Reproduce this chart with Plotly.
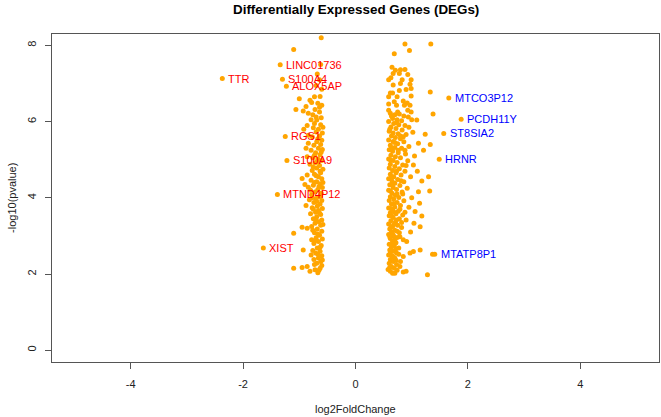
import plotly.graph_objects as go

# ---------------- data ----------------
left_x = [-0.61, -1.10, -0.62, -0.60, -0.70, -1.00, -0.73, -0.63, -0.81, -0.78, -0.67, -0.60,
          -1.06, -0.93, -0.72, -0.84, -0.64, -0.76, -0.69, -0.79, -0.61, -0.86, -0.73, -0.62,
          -0.75, -0.66, -0.70, -0.59, -0.84, -0.77, -0.64, -0.60, -0.69, -0.84, -0.62, -0.74,
          -0.66, -0.79, -0.59, -0.71, -0.63, -0.86, -0.76, -0.67, -0.60, -0.72, -0.81, -0.64,
          -0.69, -0.58, -0.77, -0.62, -0.86, -0.73, -0.66, -0.95, -0.60, -0.79, -0.69, -0.63,
          -0.75, -0.84, -0.59, -0.67, -0.72, -0.61, -0.78, -0.65, -0.70, -0.82, -0.60, -0.74,
          -0.63, -0.68, -0.77, -0.59, -0.66, -0.71, -0.80, -0.62, -0.69, -0.75, -0.60, -0.65,
          -0.72, -0.86, -0.95, -1.10, -0.62, -0.78, -0.68, -0.60, -0.73, -0.64, -0.78, -0.70,
          -0.59, -0.66, -0.74, -0.61, -0.93, -0.68, -0.63, -0.79, -0.71, -0.60, -0.66, -0.74,
          -0.62, -0.69, -1.10, -0.95, -0.86, -0.81, -0.72, -0.63, -0.60, -0.67,
          -0.64, -0.70, -0.58, -0.67, -0.73, -0.61, -0.68, -0.75, -0.63, -0.70, -0.58, -0.73,
          -0.65, -0.80, -0.62, -0.69, -0.75, -0.64, -0.70, -0.58, -0.76, -0.67, -0.72, -0.63,
          -0.76, -0.67, -0.59, -0.73, -0.65, -0.77, -0.88, -0.90, -0.88, -0.92, -0.88, -0.68,
          -0.64]
left_y = [8.20, 7.89, 7.50, 6.85, 6.95, 6.60, 6.65, 6.66, 6.56, 6.50, 6.48, 6.43,
          6.32, 6.28, 6.32, 6.22, 6.25, 6.18, 6.04, 6.05, 6.10, 5.90, 5.95, 5.92,
          5.84, 5.80, 5.73, 5.70, 5.64, 5.60, 5.62, 5.51, 5.47, 5.43, 5.40, 5.38,
          5.30, 5.25, 5.27, 5.18, 5.13, 5.08, 5.05, 5.02, 4.98, 4.92, 4.88, 4.85,
          4.78, 4.75, 4.72, 4.66, 4.60, 4.62, 4.55, 4.51, 4.50, 4.46, 4.42, 4.37,
          4.33, 4.28, 4.27, 4.22, 4.15, 4.12, 4.08, 4.03, 3.98, 3.95, 3.93, 3.88,
          3.84, 3.78, 3.74, 3.72, 3.67, 3.62, 3.58, 3.56, 3.50, 3.45, 3.42, 3.37,
          3.33, 3.20, 3.23, 3.07, 3.28, 3.25, 3.18, 3.12, 3.08, 3.02, 2.90, 2.95,
          2.92, 2.85, 2.80, 2.75, 2.63, 2.68, 2.60, 2.50, 2.55, 2.48, 2.42, 2.38,
          2.33, 2.28, 2.15, 2.17, 2.20, 2.07, 2.11, 2.15, 2.22, 2.03,
          6.38, 6.12, 5.85, 5.55, 5.12, 5.20, 4.95, 4.80, 4.70, 4.58, 4.40, 4.40,
          4.30, 4.20, 4.05, 3.90, 3.70, 3.60, 3.40, 3.30, 3.15, 3.05, 2.88, 2.70,
          2.62, 2.52, 2.37, 2.25, 2.10, 4.00, 3.80, 4.35, 5.30, 5.80, 6.40, 7.25,
          7.10]

right_x = [0.88, 1.34, 0.69, 0.96, 0.65, 0.71, 0.80, 0.88, 0.67, 0.78, 0.93, 0.59,
           0.63, 0.83, 0.99, 0.80, 0.97, 0.99, 0.67, 0.78, 0.90, 1.33, 0.62, 0.66,
           0.59, 0.74, 0.99, 0.85, 0.92, 0.69, 0.59, 0.97, 0.73, 0.87, 0.75, 0.59,
           0.99, 1.38,
           0.62, 0.70, 0.78, 0.86, 0.94, 0.66, 0.74, 0.82, 1.00, 0.59,
           0.68, 0.77, 0.88, 0.63, 0.72, 0.95, 0.83, 0.60, 0.67, 0.76, 0.90, 1.02, 0.64,
           0.71, 0.80, 0.59, 0.67, 0.86, 0.75, 0.62, 0.95, 0.70, 0.82, 0.60, 0.66,
           0.76, 0.89, 0.63, 0.71, 0.80, 0.59, 0.67, 0.93, 0.74, 0.62, 0.84, 0.70,
           0.60, 0.78, 0.66, 0.88, 0.72, 0.62, 0.81, 0.68, 0.98, 0.59, 0.75, 0.65, 0.86,
           0.70, 0.61, 0.79, 0.67, 0.92, 0.73, 0.59, 0.83, 0.65, 0.71, 0.62, 0.77,
           0.68, 0.60, 0.86, 0.74, 0.64, 0.80, 0.70, 0.59, 0.95, 0.66, 0.76, 0.62,
           0.72, 0.84, 0.60, 0.67, 0.78, 0.63, 0.90, 0.71, 0.59, 0.75, 0.66, 0.82,
           0.61, 0.70, 0.64, 0.78, 0.59, 0.68, 0.74, 0.62, 0.85, 0.66, 0.72,
           0.60, 0.69, 0.64, 0.77, 0.61, 0.67, 0.73, 0.59, 0.65, 0.85, 0.70,
           0.62, 0.80, 0.67, 0.60, 0.73, 0.64, 0.69, 0.62, 0.74, 0.85, 0.90, 0.58, 0.66,
           1.09, 1.24, 1.12, 1.33, 1.21, 1.03, 1.30, 1.18, 1.32, 1.12, 1.14, 1.06,
           1.18, 1.15, 1.04, 0.91, 1.03, 0.97, 1.15, 1.28, 1.05, 1.10, 1.00, 0.98,
           0.64, 0.73, 0.61, 0.80, 0.70, 0.64, 0.76, 0.62, 0.73, 0.64, 0.81, 0.66,
           0.62, 0.74, 0.68, 0.63, 0.79, 0.69, 0.64, 0.73, 0.68, 0.63, 0.74, 0.66,
           0.61, 0.79, 0.70, 0.65, 0.72, 0.62, 0.77, 0.67, 0.72, 0.61, 0.79, 0.70,
           0.88, 0.84, 0.82, 0.88, 0.90, 0.85, 0.93, 1.37]
right_y = [8.04, 8.04, 7.78, 7.87, 7.43, 7.35, 7.36, 7.37, 7.26, 7.26, 7.24, 7.10,
           7.15, 7.10, 7.10, 7.00, 6.98, 6.87, 6.96, 6.82, 6.84, 6.78, 6.75, 6.75,
           6.65, 6.65, 6.67, 6.54, 6.49, 6.52, 6.46, 6.43, 6.43, 6.43, 6.25, 6.30,
           6.25, 6.20,
           6.22, 6.18, 6.20, 6.15, 6.12, 6.08, 6.05, 6.02, 6.05, 6.00,
           5.95, 5.92, 5.90, 5.86, 5.82, 5.85, 5.78, 5.75, 5.70, 5.68, 5.66, 5.72, 5.62,
           5.58, 5.55, 5.52, 5.48, 5.47, 5.42, 5.38, 5.35, 5.32, 5.30, 5.26, 5.22,
           5.18, 5.15, 5.12, 5.08, 5.05, 5.02, 4.98, 4.97, 4.93, 4.88, 4.86, 4.82,
           4.78, 4.76, 4.72, 4.70, 4.66, 4.62, 4.60, 4.55, 4.55, 4.50, 4.48, 4.44, 4.42,
           4.38, 4.34, 4.32, 4.27, 4.25, 4.22, 4.20, 4.15, 4.12, 4.07, 4.03, 4.01,
           3.97, 3.93, 3.92, 3.88, 3.84, 3.80, 3.76, 3.73, 3.75, 3.68, 3.65, 3.61,
           3.58, 3.55, 3.53, 3.48, 3.45, 3.40, 3.42, 3.36, 3.31, 3.28, 3.25, 3.22,
           3.18, 3.15, 3.10, 3.08, 3.04, 3.00, 2.96, 2.93, 2.90, 2.86, 2.82,
           2.78, 2.75, 2.70, 2.68, 2.63, 2.60, 2.55, 2.50, 2.47, 2.46, 2.42,
           2.38, 2.33, 2.33, 2.28, 2.25, 2.20, 2.15, 2.07, 2.10, 2.05, 2.07, 2.12, 2.02,
           6.04, 5.67, 5.43, 5.40, 5.25, 4.86, 4.55, 4.44, 4.18, 4.16, 3.86, 3.64,
           3.52, 3.24, 3.33, 2.85, 2.59, 2.55, 2.63, 1.98, 5.10, 4.70, 4.00, 3.10,
           6.15, 5.98, 5.80, 5.62, 5.45, 5.30, 5.25, 5.00, 4.70, 4.55, 4.45, 4.35,
           4.18, 4.10, 3.85, 3.72, 3.70, 3.62, 3.52, 3.42, 3.30, 3.22, 3.12, 3.05,
           2.98, 2.98, 2.90, 2.78, 2.66, 2.56, 2.52, 2.45, 2.36, 2.18, 2.20, 2.02,
           5.25, 4.10, 3.35, 3.62, 4.85, 5.60, 6.30, 2.52]

down_genes = ["TTR", "LINC01736", "S100A4", "ALOX5AP", "RGS1", "S100A9", "MTND4P12", "XIST"]
down_x = [-2.37, -1.34, -1.30, -1.23, -1.25, -1.22, -1.39, -1.64]
down_y = [7.13, 7.49, 7.11, 6.93, 5.61, 4.98, 4.09, 2.68]

up_genes = ["MTCO3P12", "PCDH11Y", "ST8SIA2", "HRNR", "MTATP8P1"]
up_x = [1.66, 1.88, 1.57, 1.49, 1.41]
up_y = [6.62, 6.06, 5.69, 5.01, 2.52]

x_ticks = [-4, -2, 0, 2, 4]
y_ticks = [0, 2, 4, 6, 8]

title_text = "Differentially Expressed Genes (DEGs)"
x_title = "log2FoldChange"
y_title = "-log10(pvalue)"

# ---------------- figure ----------------
FONT = "Liberation Sans, Arial, Helvetica, sans-serif"
ORANGE = "#FFA500"

fig = go.Figure()
all_x = left_x + right_x + down_x + up_x
all_y = left_y + right_y + down_y + up_y
fig.add_trace(go.Scatter(x=all_x, y=all_y, mode="markers",
                         marker=dict(color=ORANGE, size=5, line=dict(width=0)),
                         hoverinfo="x+y", showlegend=False))

annotations = []
for g, x, y in zip(down_genes, down_x, down_y):
    annotations.append(dict(x=x, y=y, xref="x", yref="y", text=g, showarrow=False,
                            xanchor="left", yanchor="middle", xshift=4,
                            font=dict(family=FONT, size=11, color="#FF0000")))
for g, x, y in zip(up_genes, up_x, up_y):
    annotations.append(dict(x=x, y=y, xref="x", yref="y", text=g, showarrow=False,
                            xanchor="left", yanchor="middle", xshift=4,
                            font=dict(family=FONT, size=11, color="#0000FF")))

# titles
annotations.append(dict(x=0.5, y=1.076, xref="paper", yref="paper", text="<b>%s</b>" % title_text,
                        showarrow=False, xanchor="center", yanchor="middle",
                        font=dict(family=FONT, size=13.4, color="#000000")))
annotations.append(dict(x=0.5, y=-0.143, xref="paper", yref="paper", text=x_title,
                        showarrow=False, xanchor="center", yanchor="middle",
                        font=dict(family=FONT, size=11, color="#222222")))
annotations.append(dict(x=-0.066, y=0.5, xref="paper", yref="paper", text=y_title,
                        showarrow=False, xanchor="center", yanchor="middle", textangle=-90,
                        font=dict(family=FONT, size=11, color="#222222")))

axis_common = dict(showgrid=False, zeroline=False, showline=True, mirror=True,
                   linecolor="#555555", linewidth=1, ticks="outside", ticklen=6,
                   tickcolor="#555555", tickwidth=1,
                   tickfont=dict(family=FONT, size=11, color="#222222"))

fig.update_layout(
    width=661, height=417,
    margin=dict(l=52, r=2, t=34, b=55),
    paper_bgcolor="white", plot_bgcolor="white",
    xaxis=dict(range=[-5.4, 5.4], tickvals=x_ticks, ticktext=[str(v) for v in x_ticks],
               ticklabelstandoff=6, **axis_common),
    yaxis=dict(range=[-0.31, 8.30], tickvals=y_ticks, ticktext=[str(v) for v in y_ticks],
               tickangle=-90, ticklabelstandoff=5, **axis_common),
    annotations=annotations,
    font=dict(family=FONT),
)

fig.write_html("out.html", config={"displayModeBar": False})

# remove the default page margin so the figure sits at the window's top-left corner
with open("out.html", "r", encoding="utf-8") as f:
    html = f.read()
html = html.replace("<body>", '<body style="margin:0;padding:0;overflow:hidden">', 1)
with open("out.html", "w", encoding="utf-8") as f:
    f.write(html)
